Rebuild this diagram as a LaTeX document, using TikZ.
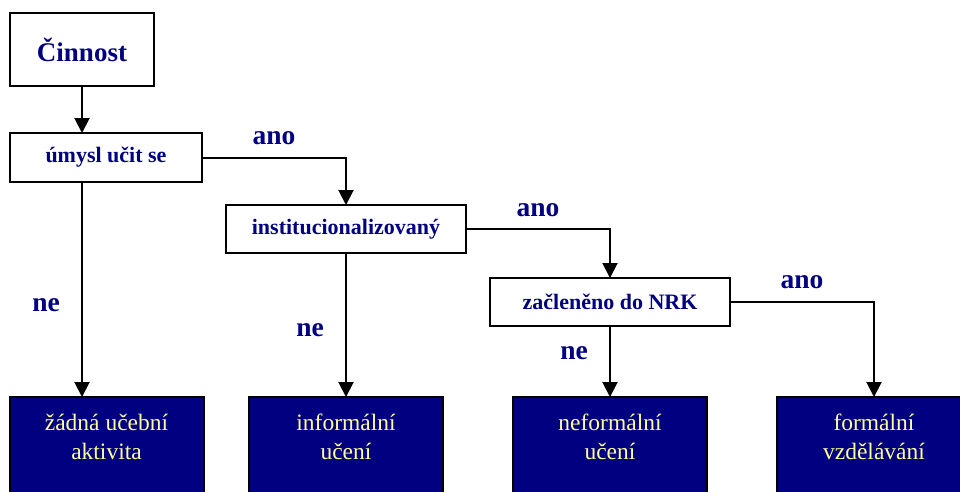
\documentclass[tikz,border=0pt]{standalone}
\usepackage{fontspec}
\setmainfont{Liberation Serif}
\usetikzlibrary{arrows.meta}
\definecolor{navy}{HTML}{000080}
\definecolor{paleyellow}{HTML}{FFFF99}
\tikzset{
  qbox/.style={draw=black, line width=2pt, fill=white, inner sep=0pt, outer sep=0pt,
    text=navy, font=\bfseries\fontsize{22}{26}\selectfont},
  outbox/.style={draw=black, line width=2pt, fill=navy, inner sep=0pt, outer sep=0pt,
    minimum width=194pt, minimum height=140pt},
  outtext/.style={text=paleyellow, align=center, font=\fontsize{23.5}{29}\selectfont},
  lbl/.style={text=navy, font=\bfseries\fontsize{27.5}{32}\selectfont},
  conn/.style={line width=2pt, -{Triangle[width=15pt,length=15pt]}}
}
\begin{document}
\begin{tikzpicture}[x=1pt,y=-1pt]
\useasboundingbox (0,0) rectangle (960,491);
\clip (0,0) rectangle (960,491);
\fill[white] (0,0) rectangle (960,491);
% question boxes
\node[qbox, minimum width=144pt, minimum height=73pt, font=\bfseries\fontsize{27}{32}\selectfont] (cin) at (82,49.5) {Činnost};
\node[qbox, minimum width=192pt, minimum height=49pt] (umysl) at (106,157.5) {úmysl učit se};
\node[qbox, minimum width=240pt, minimum height=48pt] (inst) at (346,229) {institucionalizovaný};
\node[qbox, minimum width=240pt, minimum height=48pt] (zac) at (610,302) {začleněno do NRK};
% outcome boxes
\node[outbox, anchor=north] (b1) at (106.5,397) {};
\node[outbox, anchor=north] (b2) at (346,397) {};
\node[outbox, anchor=north] (b3) at (610,397) {};
\node[outbox, anchor=north] (b4) at (874,397) {};
\node[outtext] (t1) at (106.5,437) {žádná učební\\aktivita};
\node[outtext] (t2) at (346,437) {informální\\učení};
\node[outtext] (t3) at (610,437) {neformální\\učení};
\node[outtext] (t4) at (874,437) {formální\\vzdělávání};
% connectors
\coordinate (c1) at (82,0);
\draw[conn] (cin.south -| c1) -- (umysl.north -| c1);
\draw[conn] (umysl.south -| c1) -- (b1.north -| c1);
\draw[conn] (umysl.east) -| (inst.north);
\draw[conn] (inst.south) -- (b2.north);
\draw[conn] (inst.east) -| (zac.north);
\draw[conn] (zac.south) -- (b3.north);
\draw[conn] (zac.east) -| (b4.north);
% labels
\node[lbl] (ano1) at (274,138) {ano};
\node[lbl] (ano2) at (538,210) {ano};
\node[lbl] (ano3) at (802,282) {ano};
\node[lbl] (ne1) at (46,305) {ne};
\node[lbl] (ne2) at (310,330) {ne};
\node[lbl] (ne3) at (574,353) {ne};
\end{tikzpicture}
\end{document}
